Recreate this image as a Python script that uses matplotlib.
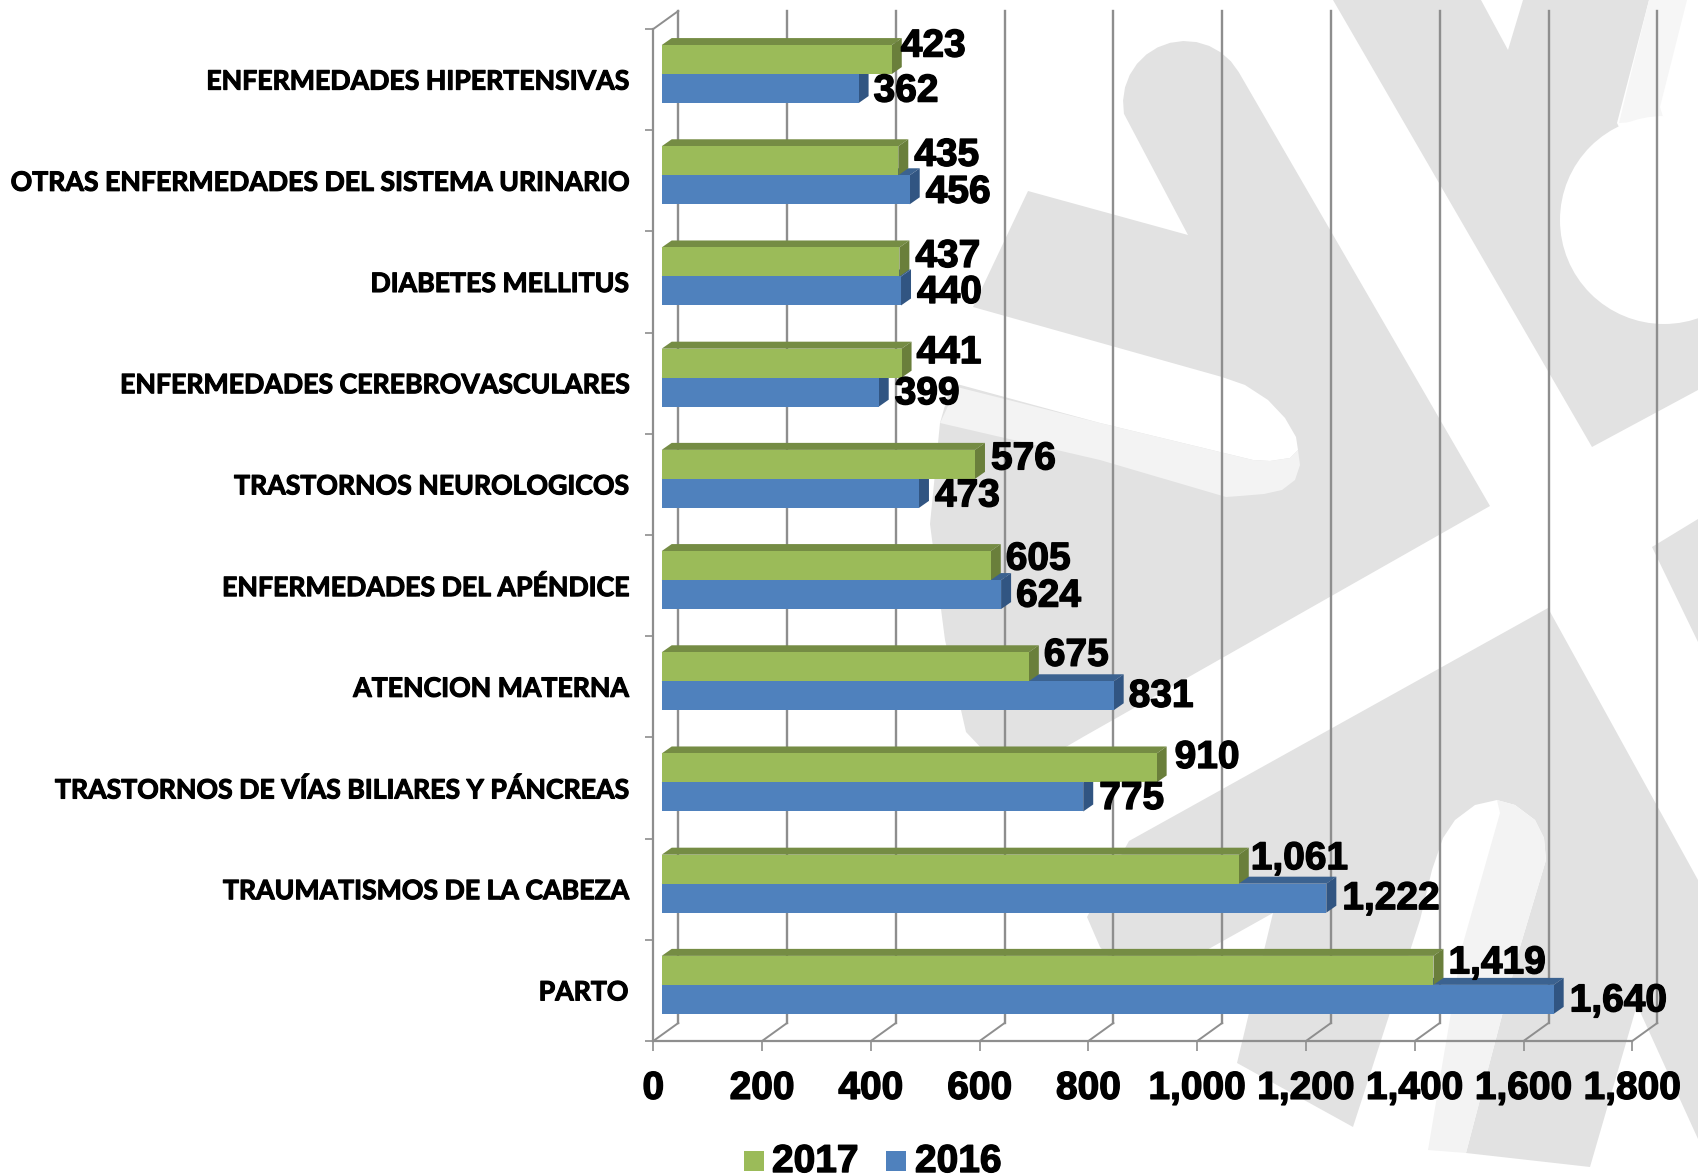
import numpy as np
import matplotlib
matplotlib.use("Agg")
import matplotlib.pyplot as plt
import matplotlib.patheffects as pe
from matplotlib.patches import Polygon, Circle, Rectangle
from matplotlib.transforms import Affine2D, IdentityTransform

# ---- data (bottom to top) ----
categories = ["PARTO", "TRAUMATISMOS DE LA CABEZA", "TRASTORNOS DE VÍAS BILIARES Y PÁNCREAS",
              "ATENCION MATERNA", "ENFERMEDADES DEL APÉNDICE", "TRASTORNOS NEUROLOGICOS",
              "ENFERMEDADES CEREBROVASCULARES", "DIABETES MELLITUS",
              "OTRAS ENFERMEDADES DEL SISTEMA URINARIO", "ENFERMEDADES HIPERTENSIVAS"]
v2017 = [1419, 1061, 910, 675, 605, 576, 441, 437, 435, 423]
v2016 = [1640, 1222, 775, 831, 624, 473, 399, 440, 456, 362]
xticks = list(range(0, 1801, 200))

# label nudges in pixels, from the end of the bar
dx17 = [5, 2, 8, 5, 5, 6, 5, 6, 6, -1]
dy17 = [-7, -10, -10, -11, -6, -5, -10, -5, -5, -13]
dx16 = [6, 6, 6, 5, 5, 6, 6, 6, 6, 5]
dy16 = [2, 1, 2, 1, 2, 3, 2, 2, 3, 3]

W, H = 1698, 1175
GREEN, GREEN_TOP, GREEN_SIDE = "#9bbb59", "#758c44", "#6a7f3b"
BLUE, BLUE_TOP, BLUE_SIDE = "#4f81bd", "#3b6290", "#315582"
AXC = "#8e8e8e"
WM, WM_LIGHT, WM_FAINT = "#e2e2e2", "#f3f3f3", "#f6f6f6"
NARROW = "Lato"
HEAVY = "Liberation Sans"

fig = plt.figure(figsize=(W / 100, H / 100), dpi=100, facecolor="white")

# ---- background watermark, in picture pixels ----
bg = fig.add_axes([0, 0, 1, 1], zorder=0)
bg.set_xlim(0, W); bg.set_ylim(H, 0); bg.axis("off")
_ang = np.radians(np.linspace(170, 330, 14))
s_cap = list(zip(1185 + 62 * np.cos(_ang), 103 + 62 * np.sin(_ang)))
s_shape = [(1028, 191), (1188, 235)] + s_cap + \
          [(1490, 506), (1083, 737), (1040, 762), (1010, 765), (985, 752), (966, 732), (945, 640),
           (930, 524), (940, 423), (973, 307)]
s_white = [(973, 307), (1222, 377), (1245, 385), (1268, 400), (1285, 418), (1296, 437), (1298, 450),
           (1290, 458), (1270, 461), (1253, 460), (1100, 423), (935, 378), (900, 340), (900, 300)]
s_light = [(957, 387), (1100, 423), (1253, 460), (1270, 461), (1290, 458), (1298, 450), (1300, 465),
           (1295, 480), (1282, 490), (1264, 494), (1240, 496), (1226, 497), (1100, 460), (940, 423)]
lower = [(1548, 608), (1129, 841), (1087, 917), (1100, 947), (1125, 975), (1180, 965), (1273, 913),
         (1237, 1063), (1353, 1127), (1420, 920), (1432, 870), (1443, 838), (1455, 820), (1475, 805),
         (1497, 800), (1515, 805), (1535, 820), (1544, 838), (1546, 860), (1520, 947), (1466, 1153),
         (1590, 1167), (1637, 1005), (1698, 1139), (1698, 880)]
lower_light = [(1497, 800), (1500, 813), (1462, 947), (1428, 1150), (1466, 1153), (1520, 947),
               (1546, 860), (1544, 838), (1535, 820), (1515, 805)]
top_right = [(1333, 0), (1481, 0), (1508, 50), (1523, 0), (1649, 0), (1617, 123), (1664, 220),
             (1698, 300), (1698, 390), (1592, 447)]
top_light = [(1649, 0), (1687, 0), (1660, 107), (1664, 120), (1619, 123)]
right_tri = [(1652, 547), (1698, 519), (1698, 642)]
for pts in (s_shape, lower, top_right, right_tri):
    bg.add_patch(Polygon(pts, closed=True, fc=WM, ec="none"))
bg.add_patch(Polygon(s_white, closed=True, fc="white", ec="none"))
for pts in (s_light, lower_light):
    bg.add_patch(Polygon(pts, closed=True, fc=WM_LIGHT, ec="none"))
bg.add_patch(Polygon(top_light, closed=True, fc=WM_FAINT, ec="none"))
bg.add_patch(Circle((1664, 220), 104, fc="white", ec="none"))

# ---- chart: the axes is the front plane of the 3-D box ----
ax = fig.add_axes([653.3 / W, (H - 1041) / H, 979 / W, 1012 / H], zorder=1)
ax.patch.set_alpha(0)
n = len(categories)
ax.set_xlim(0, 1800); ax.set_ylim(0, n)
for s in ("top", "right"):
    ax.spines[s].set_visible(False)
for s in ("left", "bottom"):
    ax.spines[s].set_color(AXC); ax.spines[s].set_linewidth(1.6)
ax.set_xticks(xticks)
ax.set_xticklabels([f"{t:,}" for t in xticks], fontsize=28, fontweight="bold", family=HEAVY,
                   path_effects=[pe.withStroke(linewidth=1.0, foreground="black")])
ax.tick_params(axis="x", length=7.5, width=1.2, color=AXC, pad=14)
ax.set_yticks(range(n + 1)); ax.set_yticklabels([])
ax.tick_params(axis="y", length=6, width=1.2, color=AXC)
ax.set_yticks([i + 0.5 for i in range(n)], minor=True)
ax.set_yticklabels(categories, minor=True, fontsize=19.2, fontweight="bold", family=NARROW, color="black",
                   path_effects=[pe.withStroke(linewidth=0.8, foreground="black")])
ax.tick_params(axis="y", which="minor", length=0, pad=18)

DEPTH_W, DEPTH_H = 25, 18      # box depth in px
BAR_X, BAR_DX, BAR_DY = 8.4, 10, 7  # bar inset and bar depth in px
back = ax.transData + Affine2D().translate(DEPTH_W, DEPTH_H)
idt = IdentityTransform()
to_px = ax.transData.transform

# back wall grid and floor / wall diagonals
for t in xticks:
    ax.plot([t, t], [0, n], transform=back, color=AXC, lw=1.7, clip_on=False, zorder=1)
    x0, y0 = to_px((t, 0))
    ax.plot([x0, x0 + DEPTH_W], [y0, y0 + DEPTH_H], transform=idt, color=AXC, lw=1.4, clip_on=False, zorder=1)
x0, y0 = to_px((0, n))
ax.plot([x0, x0 + DEPTH_W], [y0, y0 + DEPTH_H], transform=idt, color=AXC, lw=1.4, clip_on=False, zorder=1)

# 3-D bars
BH = 29 / 101.2
shift = ax.transData + Affine2D().translate(BAR_X, 0)


def bar(y0_band, value, front, top, side, z):
    x0, y0 = to_px((0, y0_band)); x1, y1 = to_px((value, y0_band + BH))
    x0 += BAR_X; x1 += BAR_X
    ax.add_patch(Polygon([(x0, y1), (x1, y1), (x1 + BAR_DX, y1 + BAR_DY), (x0 + BAR_DX, y1 + BAR_DY)],
                         transform=idt, fc=top, ec="none", clip_on=False, zorder=z))
    ax.add_patch(Polygon([(x1, y0), (x1, y1), (x1 + BAR_DX, y1 + BAR_DY), (x1 + BAR_DX, y0 + BAR_DY)],
                         transform=idt, fc=side, ec="none", clip_on=False, zorder=z))
    ax.barh(y0_band + BH / 2, value, height=BH, color=front, transform=shift, clip_on=False, zorder=z + 0.1)
    return x1 + BAR_DX, (y0 + y1) / 2


BLUE_BASE = 0.268
LABEL = dict(fontsize=28, fontweight="bold", family=HEAVY, color="black", ha="left", va="center",
             transform=idt, zorder=8, clip_on=False,
             path_effects=[pe.withStroke(linewidth=1.0, foreground="black")])
for i in range(n):
    ex, ey = bar(i + BLUE_BASE, v2016[i], BLUE, BLUE_TOP, BLUE_SIDE, 3)
    ax.text(ex + dx16[i], ey - dy16[i], f"{v2016[i]:,}", **LABEL)
    ex, ey = bar(i + BLUE_BASE + BH, v2017[i], GREEN, GREEN_TOP, GREEN_SIDE, 4)
    ax.text(ex + dx17[i], ey - dy17[i], f"{v2017[i]:,}", **LABEL)
ax.set_xlim(0, 1800); ax.set_ylim(0, n)

# legend
lg = fig.add_axes([0, 0, 1, 1], zorder=2)
lg.set_xlim(0, W); lg.set_ylim(H, 0); lg.axis("off"); lg.patch.set_alpha(0)
for sx, tx, col, name in ((744, 772, GREEN, "2017"), (886, 915, BLUE, "2016")):
    lg.add_patch(Rectangle((sx, 1151), 20, 20, fc=col, ec="none"))
    lg.text(tx, 1172, name, fontsize=28, fontweight="bold", family=HEAVY, ha="left", va="baseline",
            path_effects=[pe.withStroke(linewidth=1.0, foreground="black")])

fig.savefig("out.png", dpi=100, facecolor="white")
